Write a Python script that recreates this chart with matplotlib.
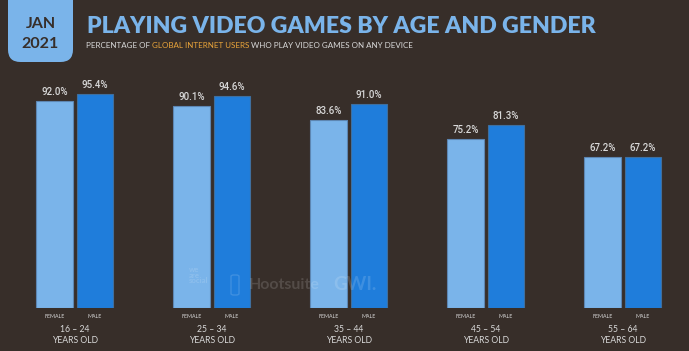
import matplotlib
matplotlib.use("Agg")
import matplotlib.pyplot as plt
from matplotlib.patches import FancyBboxPatch
import numpy as np

age_groups = ["16 – 24", "25 – 34", "35 – 44", "45 – 54", "55 – 64"]
female = [92.0, 90.1, 83.6, 75.2, 67.2]
male = [95.4, 94.6, 91.0, 81.3, 67.2]
gender_labels = ["FEMALE", "MALE"]

BG = "#372e29"
FEM_C = "#7ab4ea"
MALE_C = "#1f7ddb"
TXT = "#d9d9d9"
TITLE_C = "#7ab4ea"
ORANGE = "#e9a43a"

W, H = 689, 351
fig = plt.figure(figsize=(W / 100, H / 100), dpi=100, facecolor=BG)

def fx(px):
    return px / W

def fy(py):
    return 1 - py / H

# axes: bottom at 307.7 px, top at 60 px
ax_bottom = fy(307.7)
ax_top = fy(60)
ax = fig.add_axes([0, ax_bottom, 1, ax_top - ax_bottom])
ax.set_facecolor(BG)
ax.set_xlim(-74.75 / 137, (W - 74.75) / 137)
ax.set_ylim(0, (307.7 - 60) / 2.243)
ax.axis("off")

x = np.arange(len(age_groups))
off = 0.148
bw = 0.268
ax.bar(x - off, female, width=bw, color=FEM_C, edgecolor="#5d86b2", linewidth=0.8)
ax.bar(x + off, male, width=bw, color=MALE_C, edgecolor="#3f6f9e", linewidth=0.8)

for i in range(len(age_groups)):
    for xx, v in ((x[i] - off, female[i]), (x[i] + off, male[i])):
        ax.annotate(f"{v:.1f}%", (xx, v), xytext=(0, 9), textcoords="offset pixels",
                    ha="center", va="center", color=TXT, fontsize=7.0,
                    family="Roboto", fontweight="medium")
    for xx, g in ((x[i] - off, gender_labels[0]), (x[i] + off, gender_labels[1])):
        fig.text(fx(ax.transData.transform((xx, 0))[0]), fy(316.8), g, ha="center", va="center",
                 color=TXT, fontsize=3.8, family="Lato")
    cx = fx(ax.transData.transform((x[i], 0))[0])
    fig.text(cx, fy(330), age_groups[i], ha="center", va="center", color=TXT,
             fontsize=6.2, family="Lato")
    fig.text(cx, fy(340.5), "YEARS OLD", ha="center", va="center", color=TXT,
             fontsize=6.2, family="Lato")

# date box
box = FancyBboxPatch((fx(8), fy(62)), fx(73) - fx(8), fy(-20) - fy(62),
                     boxstyle="round,pad=0,rounding_size=0.018", transform=fig.transFigure,
                     facecolor=TITLE_C, edgecolor="none", mutation_aspect=W / H)
fig.patches.append(box)
fig.text(fx(40.5), fy(24), "JAN", ha="center", va="center", color=BG,
         fontsize=11.5, family="Lato", fontweight="bold")
fig.text(fx(40.5), fy(43.5), "2021", ha="center", va="center", color=BG,
         fontsize=11.5, family="Lato", fontweight="bold")

# title
fig.canvas.draw()
r = fig.canvas.get_renderer()
title = fig.text(fx(87), fy(33), "PLAYING VIDEO GAMES BY AGE AND GENDER", ha="left",
                 va="baseline", color=TITLE_C, fontsize=16, family="Lato", fontweight="heavy")
bb = title.get_window_extent(r)
title.set_fontsize(16 * (598 - 87) / bb.width)

# subtitle pieces
parts = [("PERCENTAGE OF ", TXT), ("GLOBAL INTERNET USERS", ORANGE),
         (" WHO PLAY VIDEO GAMES ON ANY DEVICE", TXT)]
fs = 5.0
def draw_sub(fs):
    objs = []
    cur = 86
    for s, c in parts:
        t = fig.text(fx(cur), fy(47.5), s, ha="left", va="baseline", color=c,
                     fontsize=fs, family="Lato")
        w = t.get_window_extent(r).width
        objs.append(t)
        cur += w
    return objs, cur
objs, end = draw_sub(fs)
for o in objs:
    o.remove()
fs2 = fs * (414 - 86) / (end - 86)
draw_sub(fs2)

# watermark logos
wm = dict(color="white", alpha=0.14, family="Lato", fontweight="bold")
fig.text(fx(189), fy(275), "we\nare\nsocial", ha="left", va="center", fontsize=5.6,
         linespacing=0.75, **wm)
owl = FancyBboxPatch((fx(231), fy(295)), fx(8), fy(0) - fy(20),
                     boxstyle="round,pad=0,rounding_size=0.004", transform=fig.transFigure,
                     facecolor="none", edgecolor="white", alpha=0.14, linewidth=1.0)
fig.patches.append(owl)
fig.text(fx(249), fy(285), "Hootsuite", ha="left", va="center", fontsize=11.5, **wm)
fig.text(fx(333), fy(285), "GWI.", ha="left", va="center", fontsize=13.5, **wm)

fig.savefig("out.png", dpi=100, facecolor=BG)
